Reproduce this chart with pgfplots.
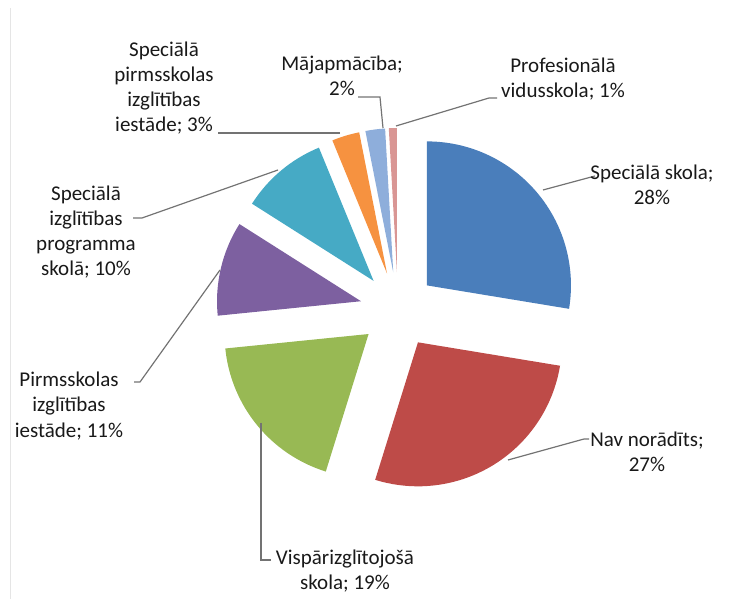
\documentclass[border=0pt]{standalone}
\usepackage{pgfplots}
\pgfplotsset{compat=1.18}
\usepackage{pgfplotstable}
\usepackage{fontspec}
\setmainfont{Carlito}

\definecolor{pieA}{HTML}{4A7EBB}
\definecolor{pieB}{HTML}{BE4B48}
\definecolor{pieC}{HTML}{98B954}
\definecolor{pieD}{HTML}{7D60A0}
\definecolor{pieE}{HTML}{46AAC5}
\definecolor{pieF}{HTML}{F69240}
\definecolor{pieG}{HTML}{8EAEDB}
\definecolor{pieH}{HTML}{D99694}

% share of each group, %
\pgfplotstableread{
value color
27.6 pieA
27.2 pieB
18.6 pieC
10.6 pieD
9.8 pieE
3.1 pieF
2.2 pieG
0.9 pieH
}\piedata

\begin{document}
\begin{tikzpicture}
\begin{axis}[width=365pt,height=299.5pt,scale only axis,
  xmin=0,xmax=730,ymin=0,ymax=599,hide axis,clip=false]
\path (axis cs:0,0) rectangle (axis cs:730,599);
\draw[black!10] (axis cs:10,0) -- (axis cs:10,591);
% slices: centre (398,289), radius 144 (=72pt), pulled out by 38
\xdef\curang{90}
\foreach \i in {0,...,7}{
  \pgfplotstablegetelem{\i}{value}\of\piedata \let\val\pgfplotsretval
  \pgfplotstablegetelem{\i}{color}\of\piedata \let\col\pgfplotsretval
  \pgfmathsetmacro\sw{3.6*\val}
  \pgfmathsetmacro\endang{\curang-\sw}
  \pgfmathsetmacro\midang{\curang-\sw/2}
  \pgfmathsetmacro\ox{398+38*cos(\midang)}
  \pgfmathsetmacro\oy{289+38*sin(\midang)}
  \edef\cmd{\noexpand\fill[\col] (axis cs:\ox,\oy) -- ++(\curang:72pt)
    arc[start angle=\curang, end angle=\endang, radius=72pt] -- cycle;}
  \cmd
  \xdef\curang{\endang}
}
% leader lines
\begin{scope}[black!55, line width=0.6pt]
\draw (axis cs:543,409) -- (axis cs:595,423);
\draw (axis cs:508,139) -- (axis cs:584,160) -- (axis cs:589,160);
\draw (axis cs:261,176) -- (axis cs:261,39) -- (axis cs:271,39);
\draw (axis cs:220,329) -- (axis cs:140,217) -- (axis cs:134,217);
\draw (axis cs:278,429) -- (axis cs:142,381) -- (axis cs:133,381);
\draw (axis cs:340,466) -- (axis cs:218,466);
\draw (axis cs:383,471) -- (axis cs:380,502) -- (axis cs:358,502);
\draw (axis cs:396,473) -- (axis cs:489,501) -- (axis cs:497,501);
\end{scope}
% labels
\begin{scope}[every node/.style={align=center, text=black!90,
    font=\fontsize{10.5}{12.6}\selectfont}]
\node at (axis cs:652,414) {Speciālā skola;\\28\%};
\node at (axis cs:647,147) {Nav norādīts;\\27\%};
\node at (axis cs:345,28) {Vispārizglītojošā\\skola; 19\%};
\node at (axis cs:69,193) {Pirmsskolas\\izglītības\\iestāde; 11\%};
\node at (axis cs:86,367) {Speciālā\\izglītības\\programma\\skolā; 10\%};
\node at (axis cs:164,511) {Speciālā\\pirmsskolas\\izglītības\\iestāde; 3\%};
\node at (axis cs:342,523) {Mājapmācība;\\2\%};
\node at (axis cs:563,520) {Profesionālā\\vidusskola; 1\%};
\end{scope}
\end{axis}
\end{tikzpicture}
\end{document}
